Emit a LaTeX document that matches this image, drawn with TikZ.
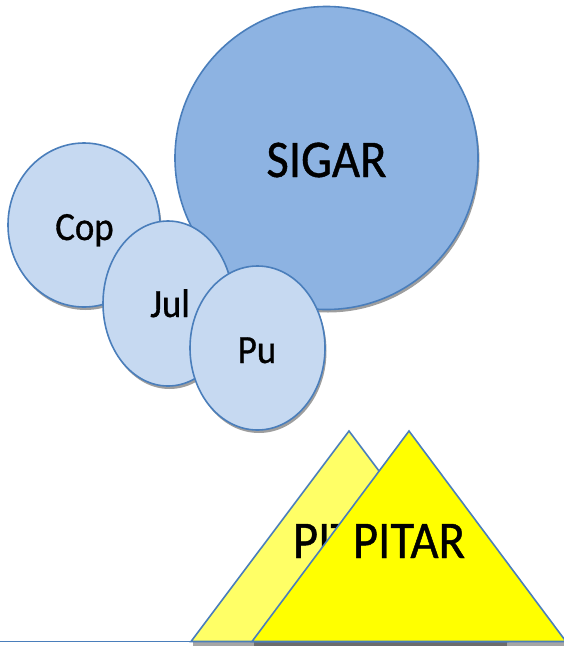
\documentclass[tikz,border=0pt]{standalone}
\usepackage{fontspec}
\usetikzlibrary{shadows}
\newfontfamily\lab[FakeStretch=0.92,FakeBold=0.8]{Carlito}
\definecolor{edgeblue}{HTML}{4A7EBB}
\definecolor{bigfill}{HTML}{8DB3E2}
\definecolor{smallfill}{HTML}{C6D9F1}
\definecolor{lightyel}{HTML}{FFFF66}
\definecolor{fullyel}{HTML}{FFFF00}
\tikzset{
  shad/.style={drop shadow={shadow xshift=1.5pt, shadow yshift=-3pt, fill=black, opacity=0.38}},
  bubble/.style={draw=edgeblue, line width=1.6pt, shad},
  bigtxt/.style={font=\lab\fontsize{53}{60}\selectfont, anchor=base, inner sep=0pt},
  smalltxt/.style={font=\lab\fontsize{40}{46}\selectfont, anchor=base, inner sep=0pt},
  tri/.style={draw=edgeblue, line width=1.6pt, line join=miter}
}
\begin{document}
\begin{tikzpicture}[x=1pt,y=-1pt]
\useasboundingbox (0,0) rectangle (564,646);
\begin{scope}
\clip (0,0) rectangle (564,646);
% circles
\path[bubble, fill=bigfill] (326.5,158) circle[radius=151.5];
\path[bubble, fill=smallfill] (84,225) ellipse[x radius=76, y radius=82];
\path[bubble, fill=smallfill] (168,303.5) ellipse[x radius=65, y radius=82.5];
\path[bubble, fill=smallfill] (257.5,348) ellipse[x radius=67.5, y radius=82];
\node[bigtxt] (sigar) at (326.5,177) {SIGAR};
\node[smalltxt] (cop) at (84.5,240) {Cop};
\node[smalltxt] (jul) at (170,317) {Jul};
\node[smalltxt] (pu) at (257,363) {Pu};
% triangle shadows
\fill[black, opacity=0.35] (193,642) rectangle (507,646);
\fill[black, opacity=0.35] (254,642) rectangle (566,646);
% baseline
\coordinate (l0) at (0,641.5);
\coordinate (ba) at (191,641.5);
\draw[edgeblue, line width=1.6pt] (l0) -- (ba);
% back triangle
\coordinate (bt) at (349,431);
\coordinate (br) at (507,641.5);
\path[tri, fill=lightyel] (ba) -- (bt) -- (br) -- cycle;
\node[bigtxt] (pitarback) at (349,558) {PITAR};
% front triangle
\coordinate (fa) at (252,641.5);
\coordinate (ft) at (409,431);
\coordinate (fr) at (566,641.5);
\path[tri, fill=fullyel] (fa) -- (ft) -- (fr) -- cycle;
\node[bigtxt] (pitar) at (409,558) {PITAR};
\end{scope}
\end{tikzpicture}
\end{document}
